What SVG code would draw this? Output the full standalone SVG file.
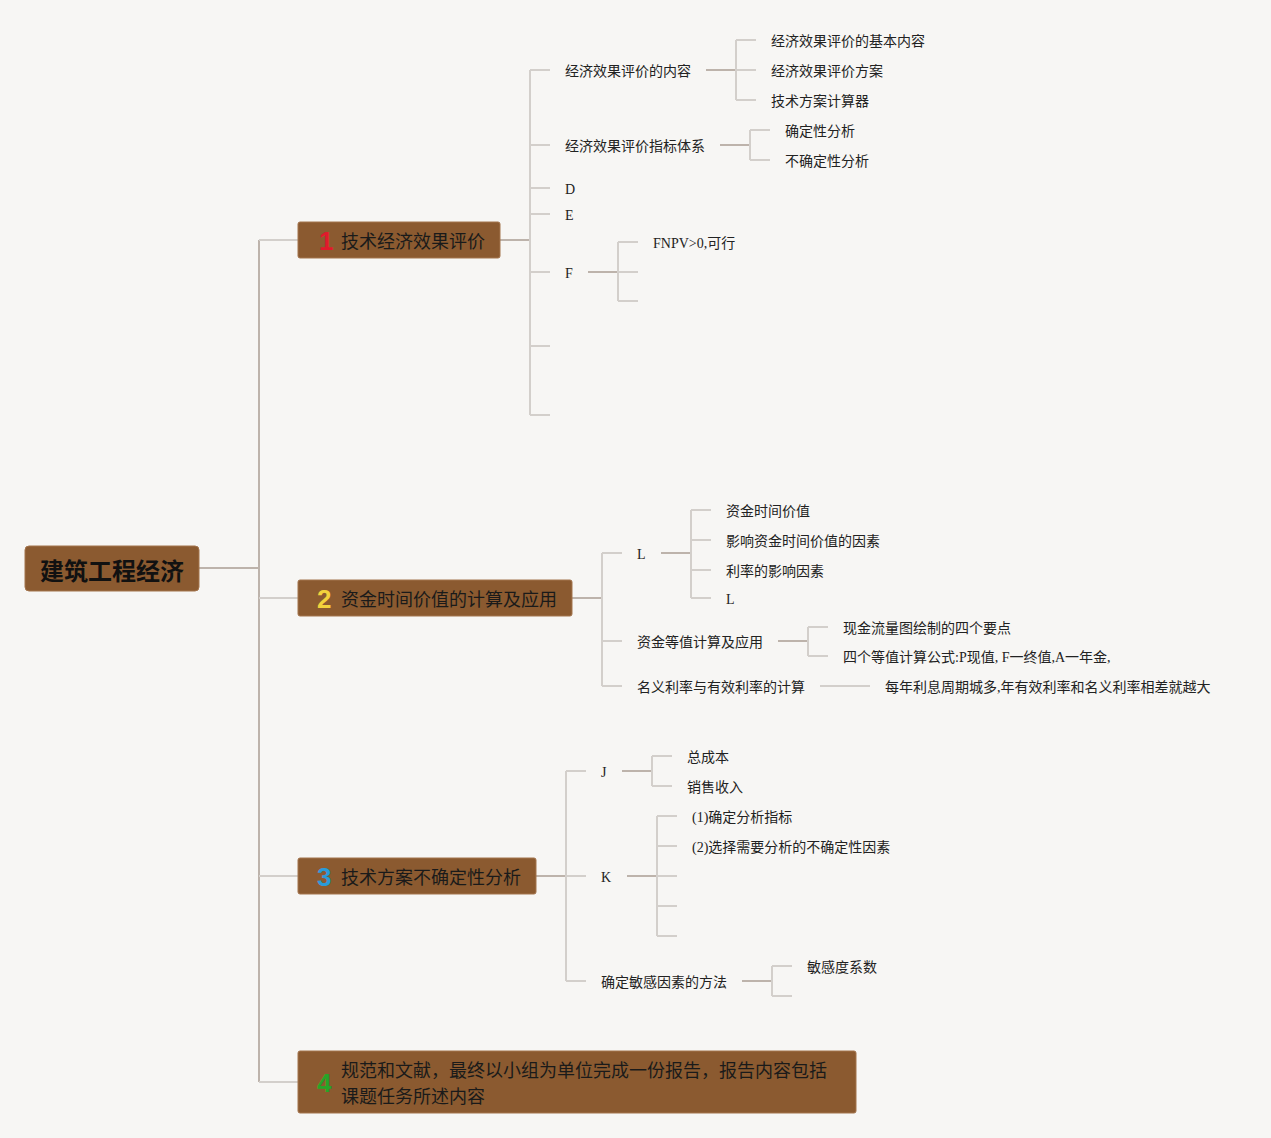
<svg xmlns="http://www.w3.org/2000/svg" width="1271" height="1138" viewBox="0 0 1271 1138">
<style>
.bg{fill:#f7f6f4}
.box{fill:#8b5a30;stroke:#a3744d;stroke-width:1}
.root{font-family:"Noto Sans CJK SC","Noto Sans",sans-serif;font-size:24px;font-weight:bold;fill:#111}
.main{font-family:"Noto Sans CJK SC","Noto Sans",sans-serif;font-size:18px;fill:#1a1a1a}
.num{font-family:"Liberation Sans","Noto Sans",sans-serif;font-size:26px;font-weight:bold}
.leaf{font-family:"Liberation Serif","Noto Sans CJK SC",serif;font-size:14px;fill:#222}
.stem{stroke:#bdb3ab;stroke-width:2;fill:none}
.tick{stroke:#d3cfcb;stroke-width:2;fill:none}
</style>
<rect class="bg" x="0" y="0" width="1271" height="1138"/>
<g id="connectors">
  <path class="stem" d="M199 568H259M259 240V1082"/>
  <path class="tick" d="M259 240H298M259 598H298M259 876H298M259 1082H298"/>
  <path class="stem" d="M500 240H530"/>
  <path class="tick" d="M530 70V415M530 70H550M530 145H550M530 188H550M530 214H550M530 272H550M530 346H550M530 415H550"/>
  <path class="stem" d="M706 70H736"/>
  <path class="tick" d="M736 40V100M736 40H756M736 70H756M736 100H756"/>
  <path class="stem" d="M720 145H750"/>
  <path class="tick" d="M750 130V160M750 130H770M750 160H770"/>
  <path class="stem" d="M588 272H618"/>
  <path class="tick" d="M618 242V301M618 242H638M618 272H638M618 301H638"/>
  <path class="stem" d="M572 598H602"/>
  <path class="tick" d="M602 553V686M602 553H622M602 641H622M602 686H622"/>
  <path class="stem" d="M661 553H691"/>
  <path class="tick" d="M691 510V598M691 510H711M691 540H711M691 570H711M691 598H711"/>
  <path class="stem" d="M778 641H808"/>
  <path class="tick" d="M808 627V656M808 627H828M808 656H828"/>
  <path class="tick" d="M820 686H870"/>
  <path class="stem" d="M536 876H566"/>
  <path class="tick" d="M566 771V981M566 771H586M566 876H586M566 981H586"/>
  <path class="stem" d="M622 771H652"/>
  <path class="tick" d="M652 756V786M652 756H672M652 786H672"/>
  <path class="stem" d="M627 876H657"/>
  <path class="tick" d="M657 816V936M657 816H677M657 846H677M657 876H677M657 906H677M657 936H677"/>
  <path class="stem" d="M742 981H772"/>
  <path class="tick" d="M772 966V996M772 966H792M772 996H792"/>
</g>
<g id="root">
  <rect class="box" x="25" y="546" width="174" height="45" rx="4"/>
  <text class="root" x="112" y="580" text-anchor="middle">建筑工程经济</text>
</g>
<g id="n1">
  <rect class="box" x="298" y="222" width="202" height="36" rx="2"/>
  <text class="num" x="319" y="250" fill="#e01a2c">1</text>
  <text class="main" x="341" y="248">技术经济效果评价</text>
</g>
<g id="n1-children">
  <text class="leaf" x="565" y="76">经济效果评价的内容</text>
  <text class="leaf" x="771" y="46">经济效果评价的基本内容</text>
  <text class="leaf" x="771" y="76">经济效果评价方案</text>
  <text class="leaf" x="771" y="106">技术方案计算器</text>
  <text class="leaf" x="565" y="151">经济效果评价指标体系</text>
  <text class="leaf" x="785" y="136">确定性分析</text>
  <text class="leaf" x="785" y="166">不确定性分析</text>
  <text class="leaf" x="565" y="194">D</text>
  <text class="leaf" x="565" y="220">E</text>
  <text class="leaf" x="565" y="278">F</text>
  <text class="leaf" x="653" y="248">FNPV&gt;0,可行</text>
</g>
<g id="n2">
  <rect class="box" x="298" y="580" width="274" height="36" rx="2"/>
  <text class="num" x="317" y="608" fill="#f3d23c">2</text>
  <text class="main" x="341" y="606">资金时间价值的计算及应用</text>
</g>
<g id="n2-children">
  <text class="leaf" x="637" y="559">L</text>
  <text class="leaf" x="726" y="516">资金时间价值</text>
  <text class="leaf" x="726" y="546">影响资金时间价值的因素</text>
  <text class="leaf" x="726" y="576">利率的影响因素</text>
  <text class="leaf" x="726" y="604">L</text>
  <text class="leaf" x="637" y="647">资金等值计算及应用</text>
  <text class="leaf" x="843" y="633">现金流量图绘制的四个要点</text>
  <text class="leaf" x="843" y="662">四个等值计算公式:P现值, F一终值,A一年金,</text>
  <text class="leaf" x="637" y="692">名义利率与有效利率的计算</text>
  <text class="leaf" x="885" y="692">每年利息周期城多,年有效利率和名义利率相差就越大</text>
</g>
<g id="n3">
  <rect class="box" x="298" y="858" width="238" height="36" rx="2"/>
  <text class="num" x="317" y="886" fill="#2a9bd8">3</text>
  <text class="main" x="341" y="884">技术方案不确定性分析</text>
</g>
<g id="n3-children">
  <text class="leaf" x="601" y="777">J</text>
  <text class="leaf" x="687" y="762">总成本</text>
  <text class="leaf" x="687" y="792">销售收入</text>
  <text class="leaf" x="601" y="882">K</text>
  <text class="leaf" x="692" y="822">(1)确定分析指标</text>
  <text class="leaf" x="692" y="852">(2)选择需要分析的不确定性因素</text>
  <text class="leaf" x="601" y="987">确定敏感因素的方法</text>
  <text class="leaf" x="807" y="972">敏感度系数</text>
</g>
<g id="n4">
  <rect class="box" x="298" y="1051" width="558" height="62" rx="2"/>
  <text class="num" x="317" y="1092" fill="#28a428">4</text>
  <text class="main" x="341" y="1077">规范和文献，最终以小组为单位完成一份报告，报告内容包括</text>
  <text class="main" x="341" y="1103">课题任务所述内容</text>
</g>
</svg>
